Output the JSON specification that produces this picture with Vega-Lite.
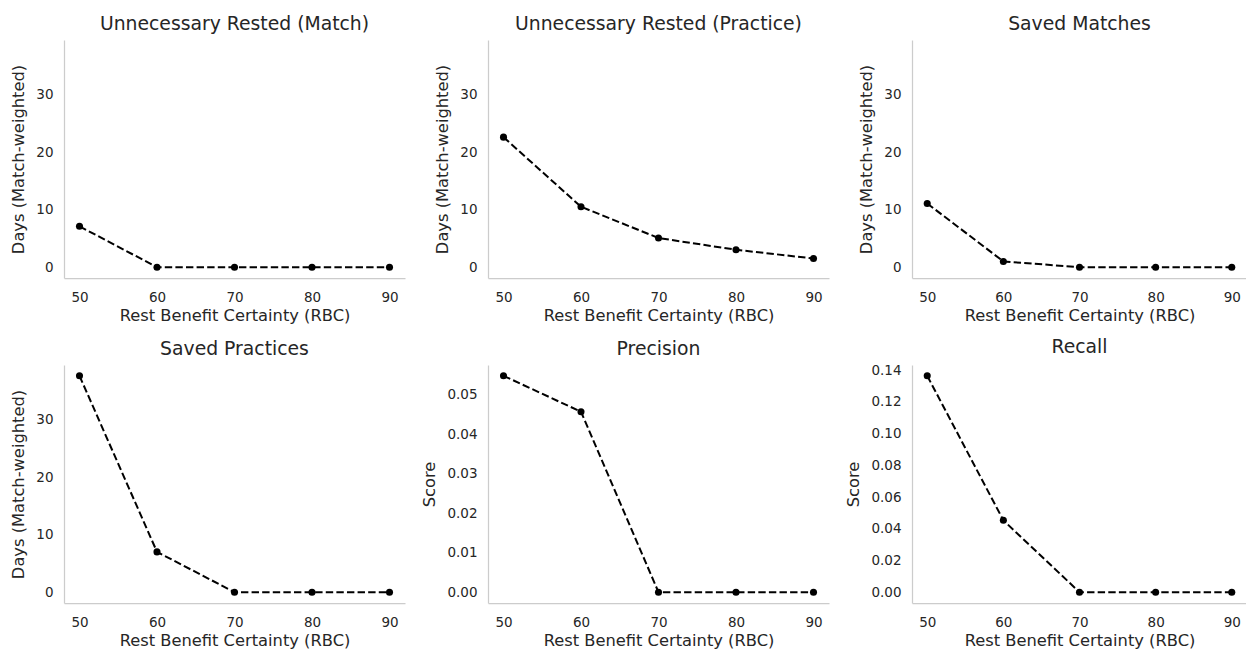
{
  "$schema": "https://vega.github.io/schema/vega-lite/v6.json",
  "background": "white",
  "padding": {"left": 10, "top": 15, "right": 0, "bottom": 3},
  "datasets": {
    "metrics": [
      {"panel": "Unnecessary Rested (Match)", "rbc": 50, "value": 7.1},
      {"panel": "Unnecessary Rested (Match)", "rbc": 60, "value": 0},
      {"panel": "Unnecessary Rested (Match)", "rbc": 70, "value": 0},
      {"panel": "Unnecessary Rested (Match)", "rbc": 80, "value": 0},
      {"panel": "Unnecessary Rested (Match)", "rbc": 90, "value": 0},
      {"panel": "Unnecessary Rested (Practice)", "rbc": 50, "value": 22.6},
      {"panel": "Unnecessary Rested (Practice)", "rbc": 60, "value": 10.5},
      {"panel": "Unnecessary Rested (Practice)", "rbc": 70, "value": 5.07},
      {"panel": "Unnecessary Rested (Practice)", "rbc": 80, "value": 3.03},
      {"panel": "Unnecessary Rested (Practice)", "rbc": 90, "value": 1.51},
      {"panel": "Saved Matches", "rbc": 50, "value": 11.07},
      {"panel": "Saved Matches", "rbc": 60, "value": 1.0},
      {"panel": "Saved Matches", "rbc": 70, "value": 0},
      {"panel": "Saved Matches", "rbc": 80, "value": 0},
      {"panel": "Saved Matches", "rbc": 90, "value": 0},
      {"panel": "Saved Practices", "rbc": 50, "value": 37.6},
      {"panel": "Saved Practices", "rbc": 60, "value": 7.0},
      {"panel": "Saved Practices", "rbc": 70, "value": 0},
      {"panel": "Saved Practices", "rbc": 80, "value": 0},
      {"panel": "Saved Practices", "rbc": 90, "value": 0},
      {"panel": "Precision", "rbc": 50, "value": 0.0548},
      {"panel": "Precision", "rbc": 60, "value": 0.0457},
      {"panel": "Precision", "rbc": 70, "value": 0},
      {"panel": "Precision", "rbc": 80, "value": 0},
      {"panel": "Precision", "rbc": 90, "value": 0},
      {"panel": "Recall", "rbc": 50, "value": 0.1364},
      {"panel": "Recall", "rbc": 60, "value": 0.0453},
      {"panel": "Recall", "rbc": 70, "value": 0},
      {"panel": "Recall", "rbc": 80, "value": 0},
      {"panel": "Recall", "rbc": 90, "value": 0}
    ]
  },
  "data": {"name": "metrics"},
  "columns": 3,
  "spacing": {"row": 87, "column": 83},
  "bounds": "flush",
  "concat": [
    {
      "width": 341, "height": 238,
      "title": "Unnecessary Rested (Match)",
      "transform": [{"filter": "datum.panel === 'Unnecessary Rested (Match)'"}],
      "mark": {"type": "line", "color": "black", "strokeWidth": 2, "strokeDash": [7.4, 3.2], "point": {"filled": true, "size": 50, "color": "black", "opacity": 1}},
      "encoding": {
        "x": {"field": "rbc", "type": "quantitative", "scale": {"domain": [48, 92], "nice": false, "zero": false}, "axis": {"values": [50, 60, 70, 80, 90], "title": "Rest Benefit Certainty (RBC)"}},
        "y": {"field": "value", "type": "quantitative", "scale": {"domain": [-1.88, 39.48], "nice": false, "zero": false}, "axis": {"values": [0, 10, 20, 30], "title": "Days (Match-weighted)"}}
      }
    },
    {
      "width": 341, "height": 238,
      "title": "Unnecessary Rested (Practice)",
      "transform": [{"filter": "datum.panel === 'Unnecessary Rested (Practice)'"}],
      "mark": {"type": "line", "color": "black", "strokeWidth": 2, "strokeDash": [7.4, 3.2], "point": {"filled": true, "size": 50, "color": "black", "opacity": 1}},
      "encoding": {
        "x": {"field": "rbc", "type": "quantitative", "scale": {"domain": [48, 92], "nice": false, "zero": false}, "axis": {"values": [50, 60, 70, 80, 90], "title": "Rest Benefit Certainty (RBC)"}},
        "y": {"field": "value", "type": "quantitative", "scale": {"domain": [-1.88, 39.48], "nice": false, "zero": false}, "axis": {"values": [0, 10, 20, 30], "title": "Days (Match-weighted)"}}
      }
    },
    {
      "width": 335, "height": 238,
      "title": "Saved Matches",
      "transform": [{"filter": "datum.panel === 'Saved Matches'"}],
      "mark": {"type": "line", "color": "black", "strokeWidth": 2, "strokeDash": [7.4, 3.2], "point": {"filled": true, "size": 50, "color": "black", "opacity": 1}},
      "encoding": {
        "x": {"field": "rbc", "type": "quantitative", "scale": {"domain": [48, 92], "nice": false, "zero": false}, "axis": {"values": [50, 60, 70, 80, 90], "title": "Rest Benefit Certainty (RBC)"}},
        "y": {"field": "value", "type": "quantitative", "scale": {"domain": [-1.88, 39.48], "nice": false, "zero": false}, "axis": {"values": [0, 10, 20, 30], "title": "Days (Match-weighted)"}}
      }
    },
    {
      "width": 341, "height": 238,
      "title": "Saved Practices",
      "transform": [{"filter": "datum.panel === 'Saved Practices'"}],
      "mark": {"type": "line", "color": "black", "strokeWidth": 2, "strokeDash": [7.4, 3.2], "point": {"filled": true, "size": 50, "color": "black", "opacity": 1}},
      "encoding": {
        "x": {"field": "rbc", "type": "quantitative", "scale": {"domain": [48, 92], "nice": false, "zero": false}, "axis": {"values": [50, 60, 70, 80, 90], "title": "Rest Benefit Certainty (RBC)"}},
        "y": {"field": "value", "type": "quantitative", "scale": {"domain": [-1.88, 39.48], "nice": false, "zero": false}, "axis": {"values": [0, 10, 20, 30], "title": "Days (Match-weighted)"}}
      }
    },
    {
      "width": 341, "height": 238,
      "title": "Precision",
      "transform": [{"filter": "datum.panel === 'Precision'"}],
      "mark": {"type": "line", "color": "black", "strokeWidth": 2, "strokeDash": [7.4, 3.2], "point": {"filled": true, "size": 50, "color": "black", "opacity": 1}},
      "encoding": {
        "x": {"field": "rbc", "type": "quantitative", "scale": {"domain": [48, 92], "nice": false, "zero": false}, "axis": {"values": [50, 60, 70, 80, 90], "title": "Rest Benefit Certainty (RBC)"}},
        "y": {"field": "value", "type": "quantitative", "scale": {"domain": [-0.00274, 0.05754], "nice": false, "zero": false}, "axis": {"values": [0, 0.01, 0.02, 0.03, 0.04, 0.05], "format": ".2f", "title": "Score"}}
      }
    },
    {
      "width": 335, "height": 238,
      "title": "Recall",
      "transform": [{"filter": "datum.panel === 'Recall'"}],
      "mark": {"type": "line", "color": "black", "strokeWidth": 2, "strokeDash": [7.4, 3.2], "point": {"filled": true, "size": 50, "color": "black", "opacity": 1}},
      "encoding": {
        "x": {"field": "rbc", "type": "quantitative", "scale": {"domain": [48, 92], "nice": false, "zero": false}, "axis": {"values": [50, 60, 70, 80, 90], "title": "Rest Benefit Certainty (RBC)"}},
        "y": {"field": "value", "type": "quantitative", "scale": {"domain": [-0.00682, 0.14322], "nice": false, "zero": false}, "axis": {"values": [0, 0.02, 0.04, 0.06, 0.08, 0.1, 0.12, 0.14], "format": ".2f", "title": "Score"}}
      }
    }
  ],
  "config": {
    "font": "DejaVu Sans",
    "view": {"stroke": null},
    "title": {"fontSize": 18.8, "fontWeight": "normal", "color": "#262626", "font": "DejaVu Sans", "offset": 6},
    "axis": {
      "labelFont": "DejaVu Sans",
      "titleFont": "DejaVu Sans",
      "labelFontSize": 13.5,
      "titleFontSize": 16.3,
      "titleFontWeight": "normal",
      "labelColor": "#262626",
      "titleColor": "#262626",
      "domainColor": "#cccccc",
      "domainWidth": 1.25,
      "ticks": false,
      "grid": false,
      "labelPadding": 11,
      "titlePadding": 6
    },
    "axisX": {"labelPadding": 12, "titlePadding": 4},
    "axisY": {"titlePadding": 9}
  }
}
